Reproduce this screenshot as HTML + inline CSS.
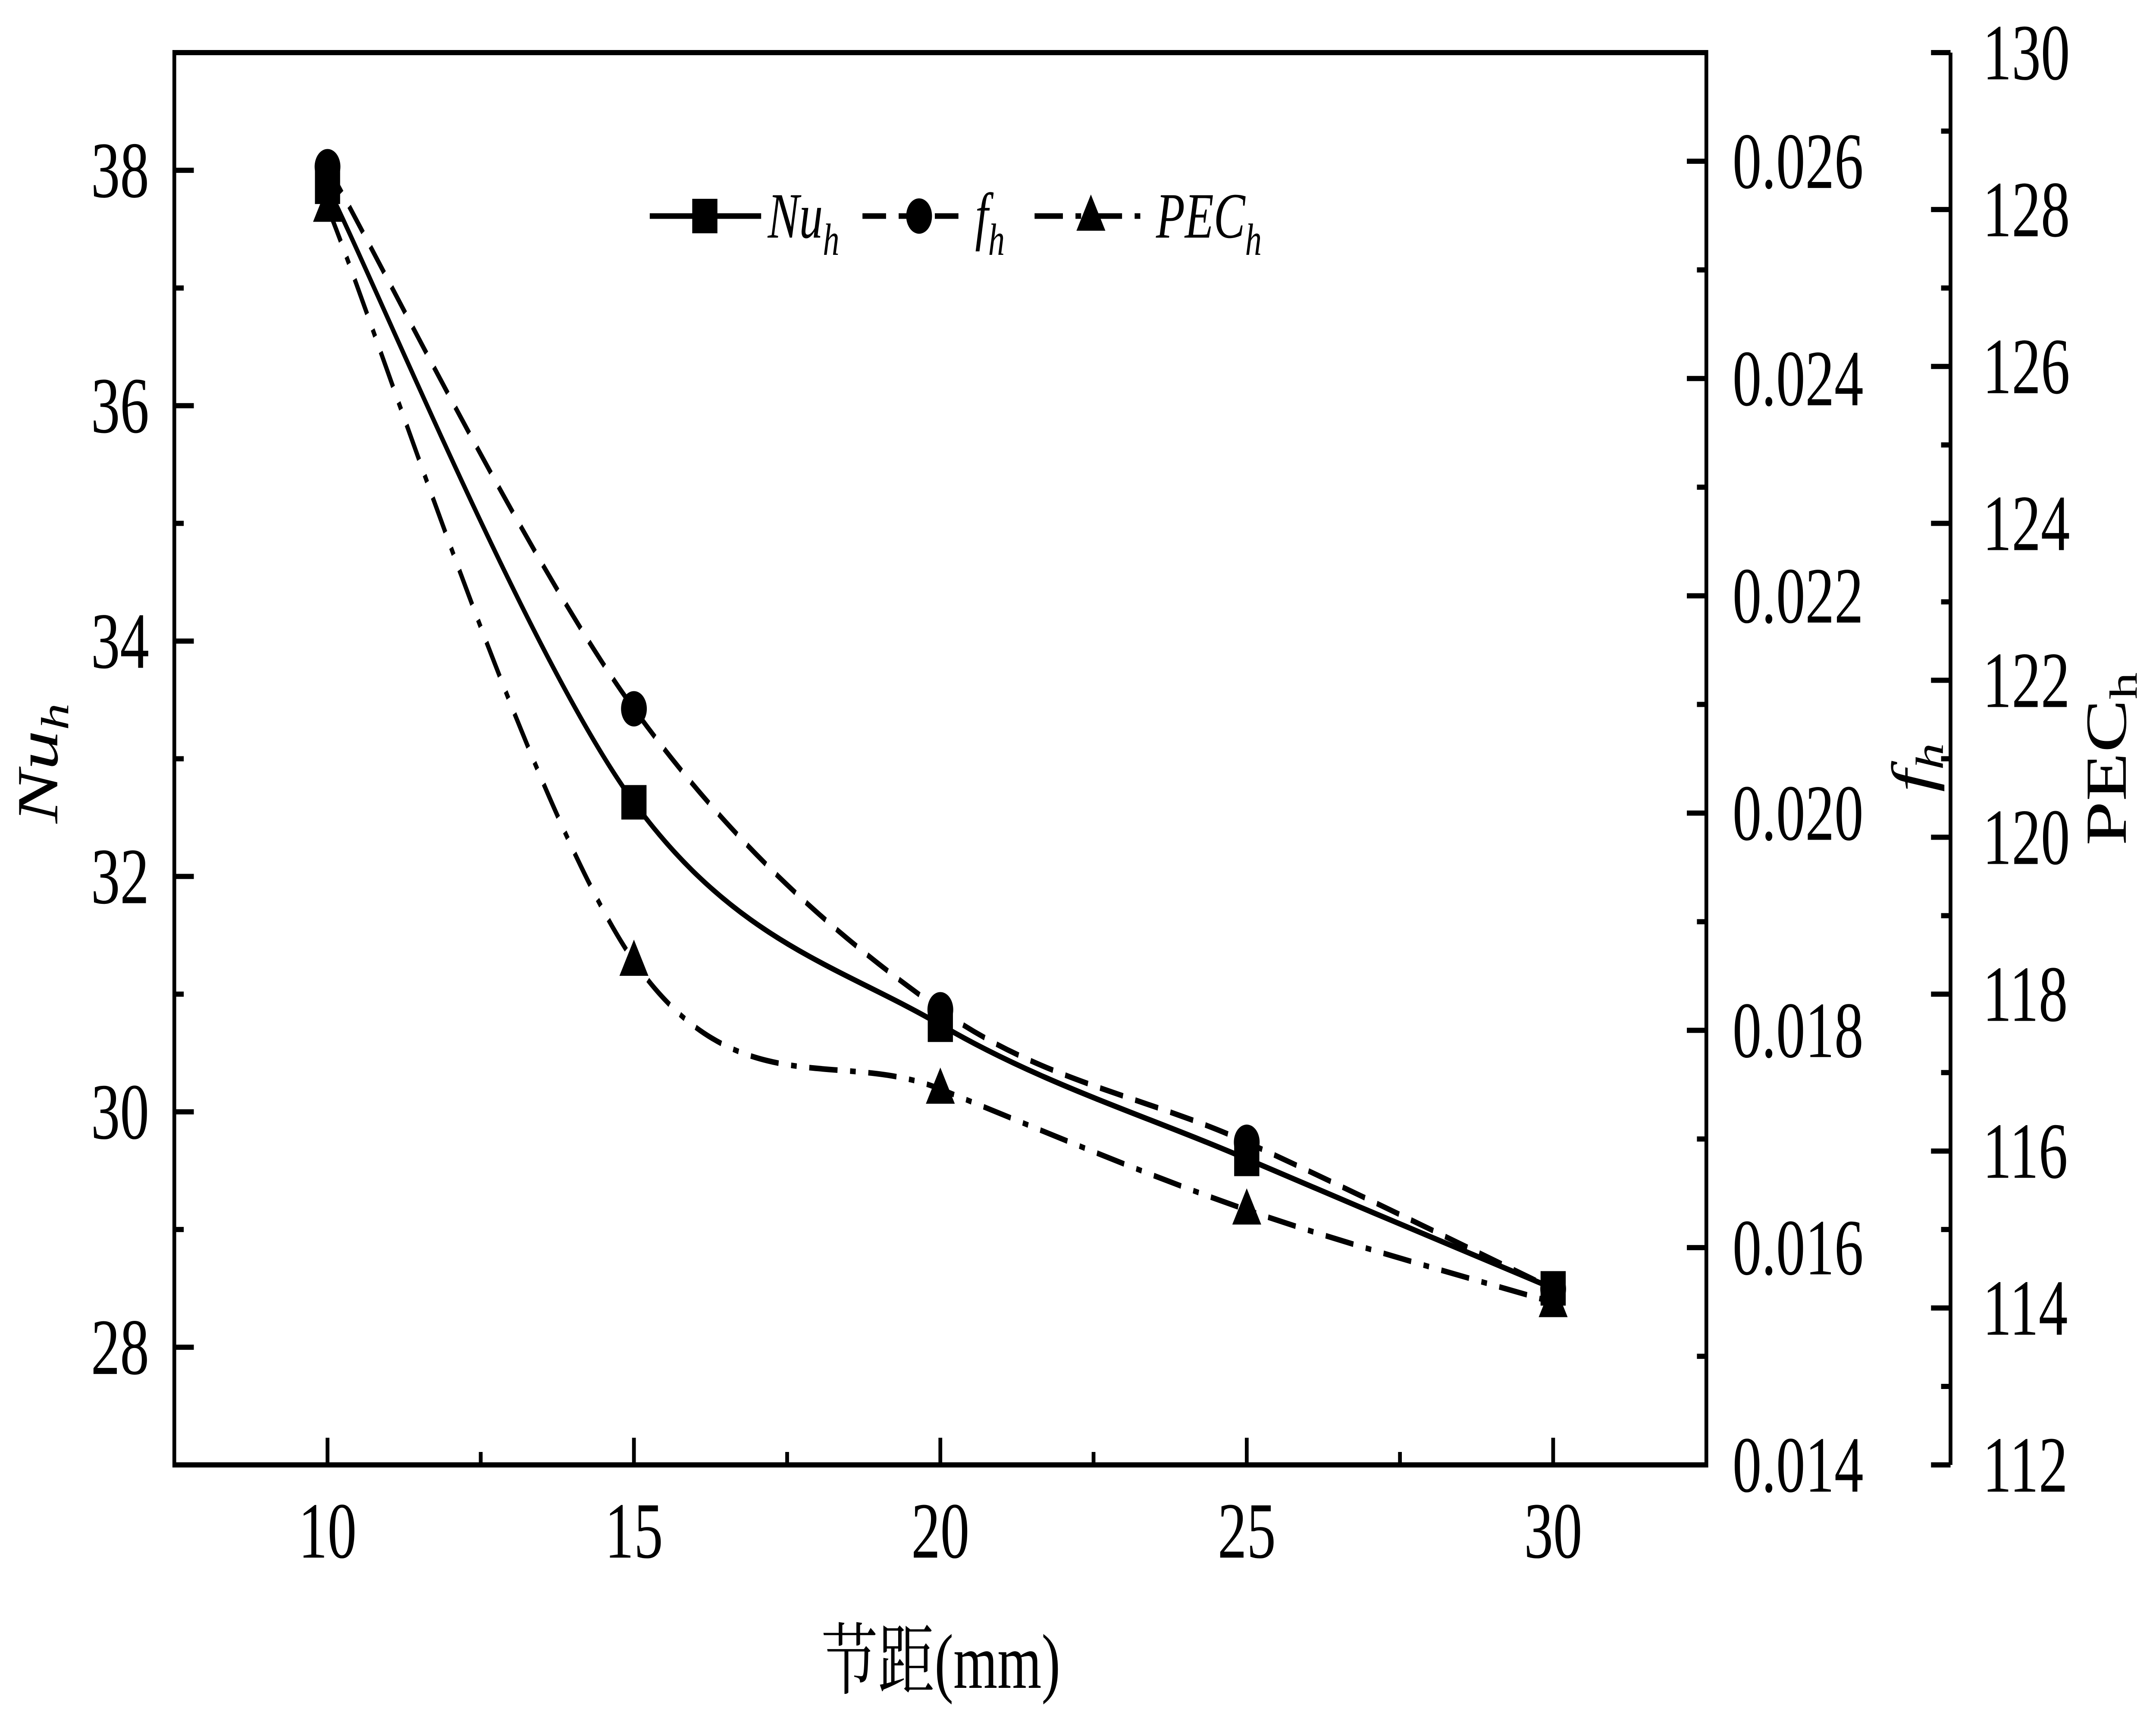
<!DOCTYPE html>
<html><head><meta charset="utf-8">
<style>
html,body{margin:0;padding:0;background:#fff;width:100%;height:100%;overflow:hidden;}
svg{display:block;position:absolute;left:0;top:0;width:100vw;height:100vh;}
text{font-family:"Liberation Serif","Times New Roman","Noto Serif CJK SC",serif;fill:#000;}
</style></head>
<body>
<svg id="chart" viewBox="0 0 6852 3970" preserveAspectRatio="none" xmlns="http://www.w3.org/2000/svg">
<g id="grid"></g>
</svg>
<script>
const categories = [10, 15, 20, 25, 30];
const nuValues = [37.86, 32.63, 30.74, 29.6, 28.5];
const fValues = [0.02595, 0.02096, 0.01819, 0.01697, 0.01562];
const pecValues = [128.03, 118.42, 116.79, 115.25, 114.07];
const xTicks = [10, 15, 20, 25, 30];
const nuTicks = [28, 30, 32, 34, 36, 38];
const fTicks = [0.014, 0.016, 0.018, 0.020, 0.022, 0.024, 0.026];
const pecTicks = [112, 114, 116, 118, 120, 122, 124, 126, 128, 130];

const NS = "http://www.w3.org/2000/svg";
const svg = document.getElementById('chart');
const FONT = '"Liberation Serif","Times New Roman","Noto Serif CJK SC",serif';
const L = 554, R = 5423, T = 122, B = 3397, PX = 6199;
const xS = v => L + (v - 7.5) / 25 * (R - L);
const yNu = v => B - (v - 27) / 12 * (B - T);
const yF = v => B - (v - 0.014) / 0.013 * (B - T);
const yPec = v => B - (v - 112) / 18 * (B - T);

function el(tag, attrs, parent) {
  const e = document.createElementNS(NS, tag);
  for (const k in attrs) e.setAttribute(k, attrs[k]);
  (parent || svg).appendChild(e);
  return e;
}
const SW = 12;
function line(x1, y1, x2, y2, name, w) {
  const e = el('line', {x1, y1, x2, y2, stroke: '#000', 'stroke-width': w || SW});
  
  
  return e;
}
function txt(x, y, s, size, anchor, name) {
  const e = el('text', {x, y, 'font-size': size, 'text-anchor': anchor || 'middle', 'font-family': FONT});
  e.textContent = s;
  
  
  return e;
}

const frame = el('path', {d: `M${L},${T} L${L},${B} L${R},${B} L${R},${T} Z`, fill: 'none', stroke: '#000', 'stroke-width': SW, 'stroke-linecap': 'square'});


line(PX, T, PX, B, 'pec-axis-line');

for (let v = 7.5; v <= 32.5001; v += 2.5) {
  const major = Math.abs(v % 5) < 0.01;
  const x = xS(v);
  if (x < L + 5 || x > R - 5) continue;
  line(x, B, x, B - (major ? 63 : 30), major ? 'x-major-tick' : 'x-minor-tick');
}
xTicks.forEach(v => txt(xS(v), 3612, String(v), 185, 'middle', 'x-tick-label'));

for (let v = 28; v <= 38; v += 1) {
  const major = v % 2 === 0;
  line(L, yNu(v), L + (major ? 62 : 30), yNu(v), major ? 'nu-major-tick' : 'nu-minor-tick');
}
nuTicks.forEach(v => txt(474, yNu(v) + 62, String(v), 185, 'end', 'nu-tick-label'));

for (let i = 0; i <= 12; i++) {
  const v = 0.014 + i * 0.001;
  const major = i % 2 === 0;
  line(R, yF(v), R - (major ? 62 : 30), yF(v), major ? 'f-major-tick' : 'f-minor-tick');
}
fTicks.forEach(v => txt(5506, yF(v) + 62, v.toFixed(3), 185, 'start', 'f-tick-label'));

for (let v = 112; v <= 130; v += 1) {
  const major = v % 2 === 0;
  line(PX, yPec(v), PX - (major ? 62 : 30), yPec(v), major ? 'pec-major-tick' : 'pec-minor-tick');
}
pecTicks.forEach(v => txt(6301, yPec(v) + 62, String(v), 185, 'start', 'pec-tick-label'));

txt(2990, 3914, '节距(mm)', 180, 'middle', 'x-axis-title');

function rotTitle(x, y, main, sub, italic, name) {
  const t = el('text', {transform: `translate(${x},${y}) rotate(-90)`, 'font-size': 185, 'text-anchor': 'middle', 'font-family': FONT, 'font-style': italic ? 'italic' : 'normal'});
  
  
  const a = el('tspan', {}, t); a.textContent = main;
  const b = el('tspan', {'font-size': 125, dy: 35}, t); b.textContent = sub;
  return t;
}
rotTitle(182, 1770, 'Nu', 'h', true, 'nu-axis-title');
rotTitle(6140, 1780, 'f', 'h', true, 'f-axis-title');
rotTitle(6756, 1760, 'PEC', 'h', false, 'pec-axis-title');

function smoothPath(xs, ys) {
  const p = xs.map((x, i) => [x, ys[i]]);
  let d = `M${p[0][0]},${p[0][1]}`;
  for (let i = 0; i < p.length - 1; i++) {
    const p0 = p[i - 1] || p[i], p1 = p[i], p2 = p[i + 1], p3 = p[i + 2] || p[i + 1];
    const c1 = [p1[0] + (p2[0] - p0[0]) / 6, p1[1] + (p2[1] - p0[1]) / 6];
    const c2 = [p2[0] - (p3[0] - p1[0]) / 6, p2[1] - (p3[1] - p1[1]) / 6];
    d += ` C${c1[0]},${c1[1]} ${c2[0]},${c2[1]} ${p2[0]},${p2[1]}`;
  }
  return d;
}
const xs = categories.map(xS);
const series = [
  {vals: nuValues, f: yNu, dash: 'none', name: 'nu', marker: 'square'},
  {vals: fValues, f: yF, dash: '75 40', name: 'f', marker: 'circle'},
  {vals: pecValues, f: yPec, dash: '90 40 18 40', name: 'pec', marker: 'triangle'}
];
function marker(type, x, y, name) {
  let m;
  if (type === 'square') m = el('rect', {x: x - 40, y: y - 40, width: 80, height: 80, fill: '#000'});
  else if (type === 'circle') m = el('circle', {cx: x, cy: y, r: 41, fill: '#000'});
  else m = el('path', {d: `M${x},${y - 50} L${x + 46},${y + 34} L${x - 46},${y + 34} Z`, fill: '#000'});
  
  
  return m;
}
series.forEach(s => {
  const ys = s.vals.map(s.f);
  const p = el('path', {d: smoothPath(xs, ys), fill: 'none', stroke: '#000', 'stroke-width': 13, 'stroke-dasharray': s.dash, 'stroke-linecap': 'butt'});
  
  
});
series.forEach(s => {
  s.vals.forEach((v, i) => marker(s.marker, xs[i], s.f(v), s.name + '-point'));
});

const LY = 501;
const lg = [
  {x1: 2065, x2: 2419, mx: 2240, tx: 2440, dash: 'none', m: 'square', main: 'Nu', name: 'legend-nu'},
  {x1: 2741, x2: 3071, mx: 2921, tx: 3099, dash: '75 40', m: 'circle', main: 'f', name: 'legend-f'},
  {x1: 3288, x2: 3646, mx: 3467, tx: 3674, dash: '90 40 18 40', m: 'triangle', main: 'PEC', name: 'legend-pec'}
];
lg.forEach(g => {
  const ln = el('line', {x1: g.x1, y1: LY, x2: g.x2, y2: LY, stroke: '#000', 'stroke-width': 13, 'stroke-dasharray': g.dash});
  
  
  marker(g.m, g.mx, LY, g.name + '-marker');
  const t = el('text', {x: g.tx, y: LY + 50, 'font-size': 150, 'font-style': 'italic', 'font-family': FONT});
  
  
  const a = el('tspan', {}, t); a.textContent = g.main;
  const b = el('tspan', {'font-size': 105, dy: 40}, t); b.textContent = 'h';
});
</script>
</body></html>
